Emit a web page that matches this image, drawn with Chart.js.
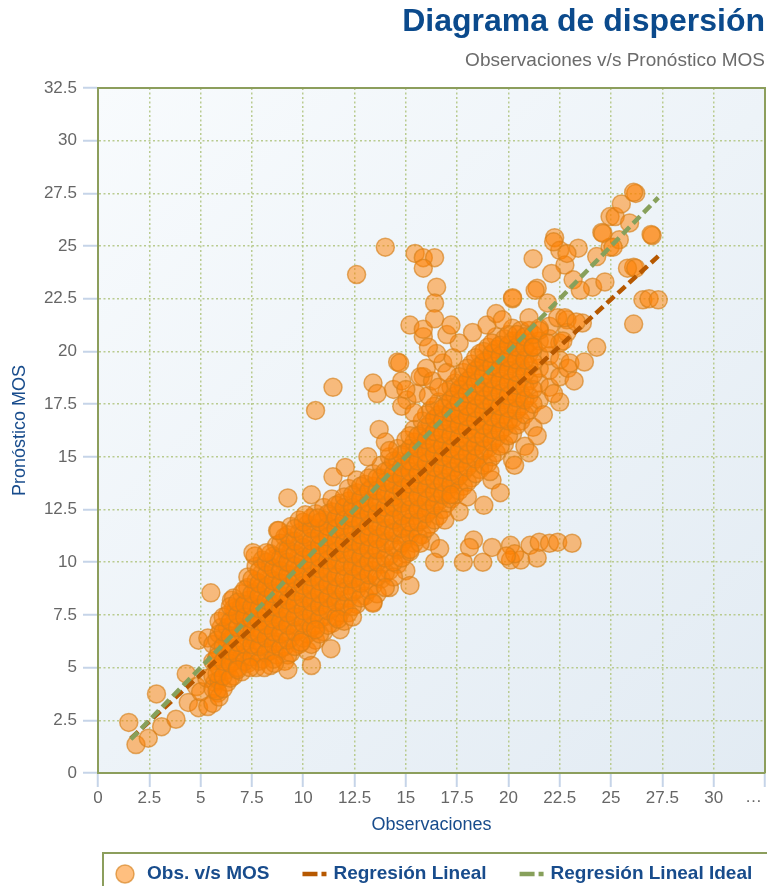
<!DOCTYPE html>
<html lang="es">
<head>
<meta charset="utf-8">
<title>Diagrama de dispersión</title>
<script src="https://cdn.jsdelivr.net/npm/chart.js@4.4.1/dist/chart.umd.min.js"></script>
<style>
  html, body { margin: 0; padding: 0; background: #ffffff; overflow: hidden; }
  #grafico { display: block; }
</style>
</head>
<body>
<canvas id="grafico" width="767" height="886"></canvas>
<script>
// Etiquetas de los ejes (la última del eje X se muestra recortada)
const etiquetasX = ['0', '2.5', '5', '7.5', '10', '12.5', '15', '17.5', '20', '22.5', '25', '27.5', '30', '…'];
const etiquetasY = ['0', '2.5', '5', '7.5', '10', '12.5', '15', '17.5', '20', '22.5', '25', '27.5', '30', '32.5'];

// Observaciones vs pronóstico MOS: extremo inferior [obs, mos]
const colaInferior = [
  [1.5, 2.4], [1.85, 1.35], [2.45, 1.65], [2.85, 3.75], [3.1, 2.2], [3.8, 2.55], [4.3, 4.7],
  [4.4, 3.35], [4.8, 4.1], [4.9, 3.1], [5.0, 3.85], [5.3, 4.5], [5.35, 3.15], [5.5, 8.55],
  [5.7, 4.3], [5.85, 3.8], [4.9, 6.3], [5.35, 6.4], [6.0, 6.9], [5.75, 5.35], [6.2, 5.5],
  [6.7, 7.7], [6.5, 8.2], [7.65, 10.3], [8.75, 11.5]
];

// Núcleo de la nube, por columnas de observación: [obs, [mos...]]
const nucleoBajo = [
  [5.6, [3.3, 4.0, 4.6, 5.3, 6.1]],
  [5.9, [3.6, 4.4, 5.0, 5.8, 6.6, 7.2]],
  [6.3, [4.3, 4.9, 5.6, 6.2, 6.9, 7.5]],
  [6.6, [4.6, 5.3, 5.9, 6.5, 7.1, 7.8, 8.3]],
  [7.0, [4.8, 5.5, 6.0, 6.7, 7.3, 7.9, 8.5]],
  [7.3, [5.2, 5.8, 6.4, 7.0, 7.6, 8.2, 8.8, 9.3]],
  [7.7, [5.0, 5.7, 6.3, 6.9, 7.4, 8.0, 8.6, 9.1, 9.8]],
  [8.0, [5.4, 6.1, 6.7, 7.2, 7.8, 8.3, 8.9, 9.5, 10.1]],
  [8.4, [5.1, 5.8, 6.4, 7.0, 7.6, 8.1, 8.7, 9.2, 9.8, 10.4]],
  [8.7, [5.6, 6.2, 6.9, 7.4, 8.0, 8.5, 9.1, 9.6, 10.2, 10.8]],
  [9.1, [5.3, 6.0, 6.7, 7.3, 7.9, 8.4, 9.0, 9.5, 10.0, 10.6, 11.2]],
  [9.4, [5.7, 6.4, 7.0, 7.7, 8.3, 8.8, 9.4, 9.9, 10.5, 11.0, 11.7]],
  [9.8, [6.1, 6.8, 7.4, 8.0, 8.6, 9.2, 9.7, 10.3, 10.8, 11.4, 12.0]]
];
const nucleoMedio = [
  [10.2, [5.8, 6.6, 7.2, 7.8, 8.4, 9.0, 9.5, 10.1, 10.6, 11.2, 11.8]],
  [10.6, [6.3, 7.0, 7.6, 8.2, 8.8, 9.4, 9.9, 10.5, 11.0, 11.6, 12.3]],
  [11.0, [6.7, 7.4, 8.0, 8.6, 9.2, 9.8, 10.3, 10.9, 11.4, 12.0, 12.6]],
  [11.4, [7.1, 7.8, 8.4, 9.0, 9.6, 10.2, 10.7, 11.3, 11.8, 12.4, 13.0]],
  [11.8, [6.8, 7.6, 8.2, 8.8, 9.4, 10.0, 10.6, 11.1, 11.7, 12.2, 12.8]],
  [12.2, [7.6, 8.3, 8.9, 9.5, 10.1, 10.7, 11.2, 11.8, 12.3, 12.9, 13.5]],
  [12.6, [8.0, 8.7, 9.3, 9.9, 10.5, 11.0, 11.6, 12.1, 12.7, 13.3, 13.9]],
  [13.0, [8.4, 9.1, 9.7, 10.3, 10.9, 11.4, 12.0, 12.6, 13.1, 13.7]],
  [13.4, [8.1, 8.9, 9.6, 10.2, 10.8, 11.3, 11.9, 12.4, 13.0, 13.6, 14.2]],
  [13.8, [9.2, 9.9, 10.6, 11.2, 11.7, 12.3, 12.9, 13.4, 14.0, 14.6]],
  [14.2, [8.8, 9.6, 10.3, 11.0, 11.6, 12.2, 12.7, 13.3, 13.8, 14.4, 15.0]],
  [14.6, [9.9, 10.6, 11.3, 11.9, 12.5, 13.1, 13.6, 14.2, 14.8, 15.4]]
];
const nucleoAlto = [
  [15.0, [9.6, 10.4, 11.1, 11.7, 12.3, 12.9, 13.5, 14.0, 14.6, 15.2, 15.8]],
  [15.4, [10.9, 11.6, 12.2, 12.8, 13.4, 14.0, 14.5, 15.1, 15.7, 16.3]],
  [15.8, [11.3, 12.0, 12.6, 13.2, 13.8, 14.4, 14.9, 15.5, 16.1, 16.7]],
  [16.2, [11.0, 11.8, 12.5, 13.1, 13.7, 14.3, 14.9, 15.4, 16.0, 16.6, 17.2]],
  [16.6, [12.2, 12.9, 13.5, 14.1, 14.7, 15.3, 15.8, 16.4, 17.0, 17.6]],
  [17.0, [12.8, 13.4, 14.0, 14.6, 15.2, 15.7, 16.3, 16.9, 17.5, 18.1]],
  [17.4, [13.2, 13.9, 14.5, 15.1, 15.6, 16.2, 16.8, 17.3, 17.9, 18.5]],
  [17.8, [13.6, 14.3, 14.9, 15.5, 16.1, 16.7, 17.2, 17.8, 18.4, 19.0]],
  [18.2, [14.0, 14.7, 15.3, 15.9, 16.5, 17.1, 17.7, 18.2, 18.8, 19.4]],
  [18.6, [14.4, 15.1, 15.7, 16.3, 16.9, 17.5, 18.1, 18.7, 19.3, 19.9]],
  [19.0, [14.7, 15.4, 16.1, 16.7, 17.3, 17.9, 18.5, 19.1, 19.6, 20.2]],
  [19.4, [15.2, 15.9, 16.6, 17.2, 17.8, 18.4, 19.0, 19.5, 20.1, 20.7]],
  [19.8, [15.6, 16.4, 17.0, 17.7, 18.3, 18.9, 19.5, 20.0, 20.6]],
  [20.2, [16.1, 16.8, 17.5, 18.1, 18.8, 19.4, 19.9, 20.5, 21.1]],
  [20.6, [16.7, 17.4, 18.0, 18.7, 19.3, 19.9, 20.5, 21.0]],
  [21.0, [17.2, 17.9, 18.6, 19.3, 19.9, 20.4, 21.0, 21.6]],
  [21.5, [17.7, 18.5, 19.2, 19.8, 20.5, 21.1]],
  [22.0, [18.3, 19.1, 19.8, 20.6, 21.2]],
  [22.5, [18.8, 19.6, 20.4]]
];
// Segunda capa del núcleo, entre las columnas anteriores
const nucleoIntercalado = [
  [5.8, [3.9, 4.7, 5.5, 6.3]],
  [6.1, [4.0, 4.6, 5.3, 6.0, 6.7, 7.4]],
  [6.45, [4.5, 5.2, 5.8, 6.5, 7.2, 7.9]],
  [6.8, [5.0, 5.6, 6.2, 6.9, 7.5, 8.1]],
  [7.15, [5.3, 6.1, 6.8, 7.4, 8.0, 8.7]],
  [7.5, [5.5, 6.1, 6.7, 7.3, 7.9, 8.5, 9.2]],
  [7.85, [5.3, 6.0, 6.6, 7.2, 7.8, 8.4, 9.0, 9.6]],
  [8.2, [5.7, 6.4, 7.0, 7.6, 8.2, 8.8, 9.4, 10.0]],
  [8.55, [5.4, 6.1, 6.7, 7.3, 7.9, 8.5, 9.1, 9.7, 10.3]],
  [8.9, [5.9, 6.6, 7.2, 7.8, 8.4, 9.0, 9.6, 10.2, 10.9]],
  [9.25, [5.6, 6.3, 7.0, 7.6, 8.2, 8.8, 9.4, 10.0, 10.6, 11.3]],
  [9.6, [6.0, 6.7, 7.4, 8.0, 8.6, 9.2, 9.8, 10.4, 11.0, 11.6]],
  [10.0, [6.4, 7.1, 7.7, 8.3, 8.9, 9.5, 10.1, 10.7, 11.3, 11.9]],
  [10.4, [6.1, 6.9, 7.5, 8.1, 8.7, 9.3, 9.9, 10.4, 11.0, 11.6, 12.1]],
  [10.8, [6.6, 7.3, 7.9, 8.5, 9.1, 9.7, 10.2, 10.8, 11.3, 11.9]],
  [11.2, [7.0, 7.7, 8.3, 8.9, 9.5, 10.1, 10.6, 11.2, 11.7, 12.3]],
  [11.6, [7.4, 8.1, 8.7, 9.3, 9.9, 10.5, 11.0, 11.6, 12.1, 12.7]],
  [12.0, [7.2, 7.9, 8.6, 9.2, 9.8, 10.4, 10.9, 11.5, 12.0, 12.6, 13.1]],
  [12.4, [7.9, 8.6, 9.2, 9.8, 10.4, 11.0, 11.5, 12.1, 12.6, 13.2]],
  [12.8, [8.3, 9.0, 9.6, 10.2, 10.8, 11.3, 11.9, 12.5, 13.0, 13.6]],
  [13.2, [8.7, 9.4, 10.0, 10.6, 11.2, 11.7, 12.3, 12.8, 13.4, 14.0]],
  [13.6, [8.5, 9.3, 10.0, 10.6, 11.1, 11.7, 12.3, 12.8, 13.4, 14.0]],
  [14.0, [9.5, 10.2, 10.9, 11.5, 12.1, 12.6, 13.2, 13.8, 14.3]],
  [14.4, [9.3, 10.0, 10.7, 11.4, 12.0, 12.6, 13.1, 13.7, 14.2, 14.8]],
  [14.8, [10.2, 10.9, 11.6, 12.2, 12.8, 13.4, 14.0, 14.5, 15.1]],
  [15.2, [10.5, 11.3, 11.9, 12.5, 13.1, 13.7, 14.3, 14.8, 15.4, 16.0]],
  [15.6, [11.2, 11.9, 12.5, 13.1, 13.7, 14.2, 14.8, 15.4, 16.0]],
  [16.0, [11.6, 12.3, 12.9, 13.5, 14.1, 14.7, 15.2, 15.8, 16.4, 17.0]],
  [16.4, [12.0, 12.7, 13.3, 13.9, 14.5, 15.1, 15.6, 16.2, 16.8, 17.4]],
  [16.8, [12.5, 13.2, 13.8, 14.4, 15.0, 15.5, 16.1, 16.7, 17.3]],
  [17.2, [13.0, 13.7, 14.3, 14.9, 15.4, 16.0, 16.6, 17.1, 17.7, 18.3]],
  [17.6, [13.4, 14.1, 14.7, 15.3, 15.9, 16.5, 17.0, 17.6, 18.2, 18.8]],
  [18.0, [13.8, 14.5, 15.1, 15.7, 16.3, 16.9, 17.4, 18.0, 18.6, 19.2]],
  [18.4, [14.2, 14.9, 15.5, 16.1, 16.7, 17.3, 17.9, 18.5, 19.1, 19.7]],
  [18.8, [14.6, 15.3, 15.9, 16.5, 17.1, 17.7, 18.3, 18.9, 19.5, 20.0]],
  [19.2, [15.0, 15.7, 16.3, 16.9, 17.5, 18.1, 18.7, 19.3, 19.9, 20.4]],
  [19.6, [15.5, 16.2, 16.8, 17.4, 18.0, 18.6, 19.2, 19.8, 20.3]],
  [20.0, [16.0, 16.7, 17.3, 17.9, 18.5, 19.1, 19.7, 20.3, 20.8]],
  [20.4, [16.5, 17.2, 17.8, 18.4, 19.0, 19.6, 20.2, 20.8]],
  [20.8, [17.0, 17.7, 18.3, 19.0, 19.6, 20.2, 20.7]],
  [21.2, [17.5, 18.2, 18.9, 19.5, 20.2, 20.8]]
];

// Puntos dispersos fuera del núcleo [obs, mos]
const dispersosSuperiores = [
  [10.6, 17.2], [11.45, 18.3], [13.4, 18.5], [13.6, 18.0], [14.6, 19.5], [14.4, 18.2], [14.8, 18.6],
  [15.05, 17.7], [15.85, 18.8], [15.85, 20.7], [16.8, 19.45], [13.7, 16.3], [14.0, 15.7], [13.15, 15.0],
  [14.2, 15.3], [12.05, 14.5], [11.45, 14.05], [9.25, 13.05], [10.4, 13.2], [10.1, 12.25], [10.7, 12.1],
  [8.8, 11.5], [7.55, 10.45], [8.2, 10.45], [14.7, 19.45], [15.7, 18.8],
  [14.8, 17.4], [15.4, 17.1], [15.5, 18.0], [16.1, 17.9], [16.3, 18.6], [16.6, 18.3], [17.0, 19.0],
  [15.0, 18.2], [16.0, 19.2], [16.5, 19.9], [17.3, 19.7], [17.6, 20.4], [16.1, 20.2], [17.0, 20.8],
  [14.0, 24.95], [12.6, 23.65], [15.45, 24.65], [15.85, 24.45], [16.4, 24.45], [15.85, 23.95],
  [16.5, 23.05], [16.4, 22.3], [15.2, 21.25], [15.85, 21.05], [16.4, 21.55], [17.2, 21.25]
];
const dispersosDerecha = [
  [18.25, 20.9], [18.95, 21.25], [19.4, 21.8], [19.7, 21.5], [20.2, 22.5], [21.9, 22.3], [22.4, 21.6],
  [22.85, 21.5], [23.6, 21.35], [22.85, 20.9], [21.5, 21.0], [21.2, 20.2], [21.9, 20.4], [22.65, 20.5],
  [22.9, 19.2], [22.5, 17.6], [21.2, 16.4], [20.2, 14.85], [21.4, 23.0], [21.2, 24.4], [22.25, 25.4],
  [22.5, 24.8], [23.4, 24.9], [22.75, 24.1], [22.1, 23.7], [23.15, 23.4], [24.1, 23.05], [24.7, 23.3],
  [24.3, 24.5], [24.95, 24.95], [24.55, 25.65], [24.95, 26.4], [25.2, 26.4], [25.5, 27.0], [26.2, 27.5],
  [26.1, 27.55], [25.9, 26.1], [25.4, 25.3], [27.0, 25.5], [26.95, 25.55], [26.1, 24.0], [25.8, 23.95],
  [26.2, 23.95], [26.55, 22.45], [26.85, 22.5], [27.3, 22.45], [26.1, 21.3], [22.85, 24.65], [22.75, 21.6],
  [23.3, 21.4], [23.0, 19.45], [24.6, 25.6], [25.1, 24.95], [21.3, 22.9], [23.5, 22.9], [20.2, 22.55],
  [22.2, 25.2]
];
const dispersosInferiores = [
  [18.3, 11.05], [18.1, 10.7], [19.2, 10.7], [20.1, 10.8], [20.1, 10.1], [20.6, 10.1], [18.75, 10.0],
  [17.8, 10.0], [21.05, 10.8], [21.4, 10.2], [21.5, 10.95], [22.0, 10.9], [22.4, 10.95], [23.1, 10.9],
  [16.65, 10.65], [16.4, 10.0], [15.7, 10.9], [15.2, 10.6], [15.2, 8.9], [20.3, 10.4], [19.9, 10.3],
  [17.2, 13.2], [18.0, 13.1], [18.8, 12.7], [19.2, 13.9], [19.1, 14.3], [17.6, 12.4], [16.9, 12.0],
  [19.6, 13.3], [20.3, 14.6], [20.8, 15.5], [21.4, 16.0], [21.7, 17.0], [22.2, 18.0], [23.2, 18.6],
  [23.7, 19.5], [24.3, 20.2], [21.0, 15.2],
  [10.4, 5.1], [11.35, 5.9], [9.25, 4.9], [8.6, 5.2], [8.1, 5.0], [6.8, 4.9], [7.4, 5.0], [10.6, 6.8],
  [9.9, 6.2], [11.7, 7.3], [12.4, 7.4], [13.4, 8.05], [14.0, 8.8]
];

// Rectas de regresión [obs, mos]
const regresionLineal = [[1.6, 1.64], [27.3, 24.52]];
const regresionIdeal = [[1.6, 1.6], [27.3, 27.3]];

const aPunto = ([x, y]) => ({ x, y });
const columnas = (tabla) => tabla.flatMap(([x, valores]) => valores.map(y => ({ x, y })));

const puntos = [
  ...colaInferior.map(aPunto),
  ...columnas(nucleoBajo),
  ...columnas(nucleoMedio),
  ...columnas(nucleoAlto),
  ...columnas(nucleoIntercalado),
  ...dispersosSuperiores.map(aPunto),
  ...dispersosDerecha.map(aPunto),
  ...dispersosInferiores.map(aPunto)
];

const FUENTE = "'Liberation Sans', Arial, Helvetica, sans-serif";
Chart.defaults.font.family = FUENTE;

const VERDE_MARCO = '#8c9e5c';
const AZUL_TEXTO = '#184c8c';
const GRIS_TICKS = '#666666';
const TAM_TICKS = 17;

// Fondo degradado del área de trazado
const fondo = {
  id: 'fondoDegradado',
  beforeDraw(chart) {
    const { ctx, chartArea: a } = chart;
    const g = ctx.createLinearGradient(a.left, a.top, a.right, a.bottom);
    g.addColorStop(0, '#f8fbfd');
    g.addColorStop(1, '#e2ebf3');
    ctx.save();
    ctx.fillStyle = g;
    ctx.fillRect(a.left, a.top, a.right - a.left, a.bottom - a.top);
    ctx.restore();
  }
};

// Marco superior y derecho del área de trazado, y la etiqueta recortada del último tick X
const marco = {
  id: 'marcoArea',
  beforeDatasetsDraw(chart) {
    const { ctx, chartArea: a, scales } = chart;
    ctx.save();
    ctx.strokeStyle = VERDE_MARCO;
    ctx.lineWidth = 2;
    ctx.beginPath();
    ctx.moveTo(a.left, a.top);
    ctx.lineTo(a.right, a.top);
    ctx.lineTo(a.right, a.bottom);
    ctx.stroke();
    const ultimo = scales.x.ticks.length - 1;
    const xUltimo = scales.x.getPixelForTick(ultimo);
    ctx.font = `${TAM_TICKS}px ${FUENTE}`;
    ctx.fillStyle = GRIS_TICKS;
    ctx.textAlign = 'right';
    ctx.textBaseline = 'middle';
    ctx.fillText(etiquetasX[ultimo], xUltimo - 3, scales.x.top + 24);
    ctx.restore();
  }
};

// Leyenda inferior enmarcada
const leyenda = {
  id: 'leyendaInferior',
  afterDraw(chart) {
    const ctx = chart.ctx;
    const sets = chart.data.datasets;
    const yc = 874;
    ctx.save();
    ctx.strokeStyle = VERDE_MARCO;
    ctx.lineWidth = 2;
    ctx.strokeRect(103, 853, 700, 60);
    ctx.font = `bold 19px ${FUENTE}`;
    ctx.textBaseline = 'middle';
    ctx.textAlign = 'left';
    let x = 116;
    sets.forEach((ds, i) => {
      if (i === 0) {
        ctx.beginPath();
        ctx.arc(x + 9, yc, 9, 0, Math.PI * 2);
        ctx.fillStyle = ds.backgroundColor;
        ctx.fill();
        ctx.lineWidth = 1.5;
        ctx.strokeStyle = ds.borderColor;
        ctx.stroke();
        x += 31;
      } else {
        ctx.beginPath();
        ctx.setLineDash([15, 4]);
        ctx.lineWidth = 4.5;
        ctx.strokeStyle = ds.borderColor;
        ctx.moveTo(x, yc);
        ctx.lineTo(x + 24, yc);
        ctx.stroke();
        ctx.setLineDash([]);
        x += 31;
      }
      ctx.fillStyle = AZUL_TEXTO;
      ctx.fillText(ds.label, x, yc);
      x += ctx.measureText(ds.label).width + 33;
    });
    ctx.restore();
  }
};

const ejeComun = (etiquetas, largoMarca) => ({
  type: 'linear',
  min: 0,
  max: 32.5,
  ticks: {
    stepSize: 2.5,
    autoSkip: false,
    maxRotation: 0,
    color: GRIS_TICKS,
    font: { size: TAM_TICKS },
    callback: (v, i) => etiquetas[i]
  },
  grid: {
    color: '#b9cb90',
    lineWidth: 1.5,
    tickColor: '#c6d4e8',
    tickWidth: 2,
    tickLength: largoMarca,
    tickBorderDash: []
  },
  border: { display: true, color: VERDE_MARCO, width: 2, dash: [2, 2.5] }
});

// Eje X: el último tick se rotula aparte (ver plugin marcoArea)
const ejeX = ejeComun(etiquetasX, 14);
ejeX.ticks.padding = 1;
ejeX.ticks.callback = (v, i) => (i === etiquetasX.length - 1 ? '' : etiquetasX[i]);
ejeX.title = { display: true, text: 'Observaciones', color: AZUL_TEXTO, font: { size: 18, lineHeight: 1.2 }, padding: { top: 0, bottom: 0 } };
ejeX.afterFit = (s) => { s.height = 63; };

const ejeY = ejeComun(etiquetasY, 15);
ejeY.ticks.padding = 6;
ejeY.title = { display: true, text: 'Pronóstico MOS', color: AZUL_TEXTO, font: { size: 18, lineHeight: 1.2 }, padding: { top: 9, bottom: 0 } };
ejeY.afterFit = (s) => { s.width = 98; };

new Chart(document.getElementById('grafico'), {
  type: 'scatter',
  data: {
    datasets: [
      {
        label: 'Obs. v/s MOS',
        data: puntos,
        backgroundColor: 'rgba(255,128,0,0.5)',
        borderColor: 'rgba(214,128,24,0.65)',
        borderWidth: 1.5,
        pointRadius: 9,
        pointHoverRadius: 9,
        order: 2
      },
      {
        label: 'Regresión Lineal',
        data: regresionLineal.map(aPunto),
        showLine: true,
        borderColor: '#b65800',
        backgroundColor: '#b65800',
        borderWidth: 4.5,
        borderDash: [10, 5],
        pointRadius: 0,
        order: 1
      },
      {
        label: 'Regresión Lineal Ideal',
        data: regresionIdeal.map(aPunto),
        showLine: true,
        borderColor: '#87a05b',
        backgroundColor: '#87a05b',
        borderWidth: 4.5,
        borderDash: [10, 5],
        pointRadius: 0,
        order: 0
      }
    ]
  },
  options: {
    responsive: false,
    animation: false,
    devicePixelRatio: 1,
    layout: { autoPadding: false, padding: { left: 0, right: 2, top: 0, bottom: 50 } },
    plugins: {
      legend: { display: false },
      tooltip: { enabled: false },
      title: {
        display: true,
        text: 'Diagrama de dispersión',
        align: 'end',
        color: '#0b4a8c',
        font: { size: 32, weight: 'bold', lineHeight: 1.2 },
        padding: { top: 3, bottom: 7.6 }
      },
      subtitle: {
        display: true,
        text: 'Observaciones v/s Pronóstico MOS',
        align: 'end',
        color: '#6b6b6b',
        font: { size: 19, lineHeight: 1.2 },
        padding: { top: 0, bottom: 16.2 }
      }
    },
    scales: { x: ejeX, y: ejeY }
  },
  plugins: [fondo, marco, leyenda]
});
</script>
</body>
</html>
